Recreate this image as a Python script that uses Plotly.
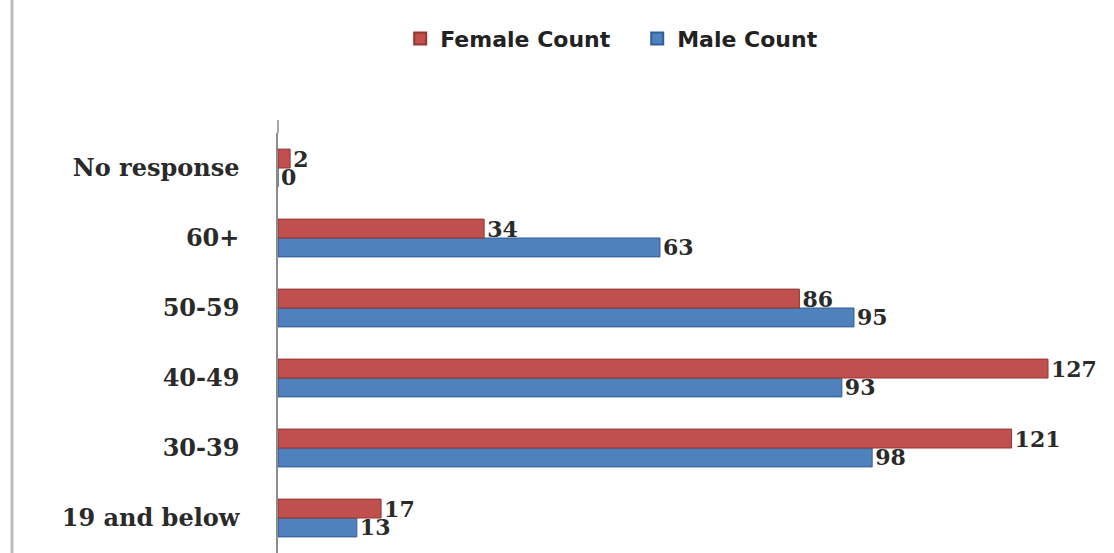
import plotly.graph_objects as go

# Age groups, bottom to top
age_groups = ["19 and below", "30-39", "40-49", "50-59", "60+", "No response"]
female_count = [17, 121, 127, 86, 34, 2]
male_count = [13, 98, 93, 95, 63, 0]

FEMALE_COLOR = "#C0504D"
MALE_COLOR = "#4F81BD"

W, H = 1114, 553
LEFT, TOP = 278, 133
PX_PER_UNIT = 6.063
x_max = (W - LEFT) / PX_PER_UNIT

label_font = dict(family="DejaVu Serif", size=22, color="#2a2a2a", weight="bold")

fig = go.Figure()
fig.add_trace(go.Bar(
    y=age_groups, x=male_count, name="Male Count", orientation="h",
    marker=dict(color=MALE_COLOR, line=dict(color="#2f5f9a", width=1)),
    text=[str(v) for v in male_count], textposition="outside",
    textfont=label_font, cliponaxis=False, constraintext="none",
))
fig.add_trace(go.Bar(
    y=age_groups, x=female_count, name="Female Count", orientation="h",
    marker=dict(color=FEMALE_COLOR, line=dict(color="#943634", width=1)),
    text=[str(v) for v in female_count], textposition="outside",
    textfont=label_font, cliponaxis=False, constraintext="none",
))

fig.update_layout(
    width=W, height=H,
    margin=dict(l=LEFT, r=0, t=TOP, b=0),
    paper_bgcolor="white", plot_bgcolor="white",
    barmode="group", bargap=0.46, bargroupgap=0.0,
    showlegend=True,
    legend=dict(
        orientation="h", traceorder="reversed",
        xref="container", yref="container",
        x=0.572, xanchor="center", y=0.93, yanchor="middle",
        font=dict(family="DejaVu Sans", size=22, color="#222222", weight="bold"),
        itemwidth=30, itemsizing="constant",
        entrywidth=192,
    ),
    xaxis=dict(range=[0, x_max], visible=False, fixedrange=True),
    yaxis=dict(
        type="category", categoryorder="array", categoryarray=age_groups,
        range=[-0.5, 5.5], showline=True, linecolor="#8c8c8c", linewidth=1.5,
        ticks="", showgrid=False, ticklabelstandoff=32,
        tickfont=dict(family="DejaVu Serif", size=24, color="#2a2a2a", weight="bold"),
    ),
    shapes=[
        # outer frame line on the left
        dict(type="line", xref="paper", yref="paper",
             x0=(12 - LEFT) / (W - LEFT), x1=(12 - LEFT) / (W - LEFT),
             y0=0, y1=H / (H - TOP),
             line=dict(color="#bdbdbd", width=3)),
        # axis line extension at the top
        dict(type="line", xref="paper", yref="paper",
             x0=0, x1=0, y0=1, y1=(H - 120) / (H - TOP),
             line=dict(color="#8c8c8c", width=1.5)),
    ],
)

fig.write_html("out.html")
